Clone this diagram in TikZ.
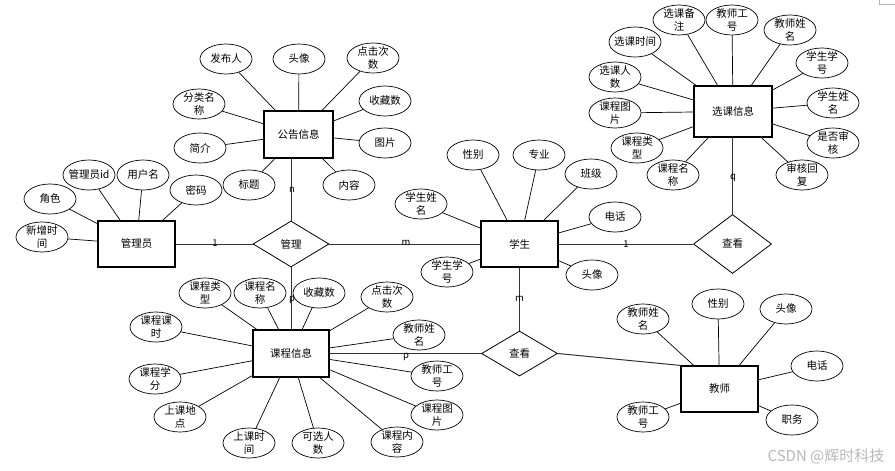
\documentclass[tikz,border=0pt]{standalone}
\usepackage{fontspec}
\setmainfont{Noto Sans CJK SC}
\usetikzlibrary{shapes.geometric}
\tikzset{
  ent/.style={draw, line width=1.1pt, rectangle, inner sep=0pt, minimum width=77pt, minimum height=46pt, font=\fontsize{10.5}{13}\selectfont},
  rel/.style={draw, line width=0.8pt, diamond, inner sep=0pt, minimum width=76pt, minimum height=46pt, font=\fontsize{10.5}{13}\selectfont},
  attr/.style={draw, line width=0.7pt, ellipse, inner sep=0pt, minimum width=52pt, minimum height=30pt},
  atxt/.style={align=center, inner sep=0pt, font=\fontsize{10.5}{13}\selectfont},
  lk/.style={line width=0.7pt},
  rl/.style={line width=1pt, black!80},
  card/.style={font=\fontsize{9.5}{11}\selectfont, inner sep=0pt},
}
\newcommand\At[3]{\node[attr, label={[atxt]center:{#3}}] (#1) at (#2) {};}
\begin{document}
\begin{tikzpicture}[x=1pt,y=-1pt]
\useasboundingbox (0,0) rectangle (895,471);
% entities
\node[ent, minimum width=69pt, minimum height=47pt] (gg) at (298.5,134.5) {公告信息};
\node[ent] (gly) at (136.5,244) {管理员};
\node[ent] (xs) at (519.5,244) {学生};
\node[ent, minimum width=78pt, minimum height=51pt] (xk) at (733,111.5) {选课信息};
\node[ent, minimum width=76pt, minimum height=47pt] (kc) at (291,353.5) {课程信息};
\node[ent] (js) at (719.5,389) {教师};
% relations
\node[rel] (gl) at (291,244) {管理};
\node[rel, minimum width=78pt, minimum height=59pt] (ck1) at (732.5,244) {查看};
\node[rel, minimum height=45pt] (ck2) at (519.5,353.5) {查看};
% gonggao attributes
\At{g1}{226,59}{发布人}
\At{g2}{299,59}{头像}
\At{g3}{373,58}{点击次\\数}
\At{g4}{385,101}{收藏数}
\At{g5}{385,143}{图片}
\At{g6}{349,185}{内容}
\At{g7}{249,185}{标题}
\At{g8}{200,148}{简介}
\At{g9}{199,104}{分类名\\称}
\foreach \a in {g1,g2,g3,g4,g5,g6,g7,g8,g9} \draw[lk] (gg) -- (\a);
% admin attributes
\At{m1}{50,199}{角色}
\At{m2}{89,175}{管理员id}
\At{m3}{143,175}{用户名}
\At{m4}{196,190}{密码}
\At{m5}{42,237}{新增时\\间}
\foreach \a in {m1,m2,m3,m4,m5} \draw[lk] (gly) -- (\a);
% xuanke attributes
\At{x1}{679,20}{选课备\\注}
\At{x2}{732,20}{教师工\\号}
\At{x3}{790,30}{教师姓\\名}
\At{x4}{822,63}{学生学\\号}
\At{x5}{833,103}{学生姓\\名}
\At{x6}{833,143}{是否审\\核}
\At{x7}{802,175}{审核回\\复}
\At{x8}{673,175}{课程名\\称}
\At{x9}{637,148}{课程类\\型}
\At{x10}{615,113}{课程图\\片}
\At{x11}{615,77}{选课人\\数}
\At{x12}{635,42}{选课时间}
\foreach \a in {x1,x2,x3,x4,x5,x6,x7,x8,x9,x10,x11,x12} \draw[lk] (xk) -- (\a);
% student attributes
\At{s1}{473,155}{性别}
\At{s2}{539,155}{专业}
\At{s3}{591,174}{班级}
\At{s4}{615,217}{电话}
\At{s5}{592,275}{头像}
\At{s6}{447,272}{学生学\\号}
\At{s7}{421,204}{学生姓\\名}
\foreach \a in {s1,s2,s3,s4,s5,s6,s7} \draw[lk] (xs) -- (\a);
% course attributes
\At{k1}{205,293}{课程类\\型}
\At{k2}{260,293}{课程名\\称}
\At{k3}{319,293}{收藏数}
\At{k4}{387,297}{点击次\\数}
\At{k5}{419,335}{教师姓\\名}
\At{k6}{437,376}{教师工\\号}
\At{k7}{437,415}{课程图\\片}
\At{k8}{397,442}{课程内\\容}
\At{k9}{318,443}{可选人\\数}
\At{k10}{249,443}{上课时\\间}
\At{k11}{180,417}{上课地\\点}
\At{k12}{155,379}{课程学\\分}
\At{k13}{156,327}{课程课\\时}
\foreach \a in {k1,k2,k3,k4,k5,k6,k7,k8,k9,k10,k11,k12,k13} \draw[lk] (kc) -- (\a);
% teacher attributes
\At{t1}{643,319}{教师姓\\名}
\At{t2}{718,304}{性别}
\At{t3}{786,309}{头像}
\At{t4}{817,366}{电话}
\At{t5}{792,420}{职务}
\At{t6}{643,417}{教师工\\号}
\foreach \a in {t1,t2,t3,t4,t5,t6} \draw[lk] (js) -- (\a);
% relationship links
\draw[rl] (gly) -- (gl);
\draw[rl] (gl) -- (xs);
\draw[rl] (xs) -- (ck1);
\draw[rl] (gg.south -| gl) -- (gl);
\draw[rl] (gl) -- (kc.north -| gl);
\draw[rl] (xk.south -| ck1) -- (ck1);
\draw[rl] (xs) -- (ck2);
\draw[rl] (kc) -- (ck2);
\draw[rl] (ck2.east) -- (js.north west);
% cardinalities
\node[card] (c1) at (292,190) {n};
\node[card] (c2) at (215,243) {1};
\node[card] (c3) at (406,243) {m};
\node[card] (c4) at (626,244) {1};
\node[card] (c5) at (733,178) {q};
\node[card] (c6) at (292,300) {p};
\node[card] (c7) at (519.5,299) {m};
\node[card] (c8) at (406,357) {p};
% watermark and corner mark
\node[font=\fontsize{15}{15}\selectfont, text=black!28, inner sep=0pt] (wm) at (826,456) {CSDN @辉时科技};
\draw[black!30, line width=0.5pt] (879,0) -- (879,4.5) -- (895,4.5);
\end{tikzpicture}
\end{document}
